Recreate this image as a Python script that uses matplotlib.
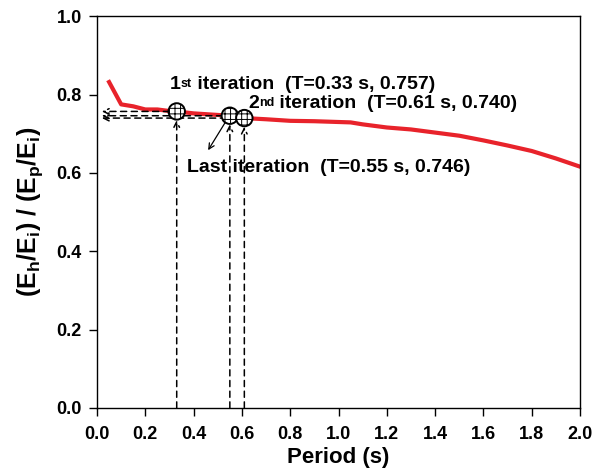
import numpy as np
import matplotlib
matplotlib.use("Agg")
import matplotlib.pyplot as plt

plt.rcParams['font.family'] = ['Liberation Sans', 'DejaVu Sans']
plt.rcParams['font.weight'] = 'bold'
plt.rcParams['mathtext.default'] = 'regular'
plt.rcParams['hatch.linewidth'] = 0.7

# energy ratio curve vs period
period = [0.05, 0.1, 0.15, 0.2, 0.25, 0.3, 0.33, 0.4, 0.5, 0.55, 0.61, 0.7, 0.8, 0.9,
          1.0, 1.05, 1.1, 1.2, 1.3, 1.4, 1.5, 1.6, 1.7, 1.8, 1.9, 2.0]
ratio = [0.832, 0.775, 0.770, 0.762, 0.762, 0.758, 0.757, 0.752, 0.748, 0.746, 0.740,
         0.737, 0.733, 0.732, 0.730, 0.729, 0.724, 0.716, 0.711, 0.703, 0.695, 0.683,
         0.670, 0.656, 0.637, 0.616]

# iteration points
iter_T = [0.33, 0.55, 0.61]
iter_val = [0.757, 0.746, 0.740]

fig = plt.figure(figsize=(6.0, 4.76), dpi=100)
ax = fig.add_axes([0.1617, 0.1429, 0.805, 0.823])

ax.plot(period, ratio, color='#e8232b', lw=3.0, zorder=2)

# dashed guide arrows: up from axis to point, left from point to axis
for t, v in zip(iter_T, iter_val):
    ax.annotate('', xy=(t, v - 0.022), xytext=(t, 0.0),
                arrowprops=dict(arrowstyle='->', linestyle=(0, (4, 3)), lw=1.1,
                                color='black', shrinkA=0, shrinkB=0), zorder=3)
    ax.annotate('', xy=(0.02, v), xytext=(t - 0.03, v),
                arrowprops=dict(arrowstyle='->', linestyle=(0, (4, 3)), lw=1.1,
                                color='black', shrinkA=0, shrinkB=0), zorder=3)

ax.scatter(iter_T, iter_val, s=140, facecolor='white', edgecolor='black',
           linewidths=1.4, hatch='+++', zorder=4)

ax.annotate('', xy=(0.46, 0.658), xytext=(0.535, 0.733),
            arrowprops=dict(arrowstyle='->', lw=0.9, color='black',
                            shrinkA=0, shrinkB=0), zorder=3)


def ordinal_label(x, y, num, sup, rest):
    # number, small raised suffix, then the rest on the number's baseline
    base = ax.text(x, y, num, fontsize=14, va='center', ha='left')
    s = ax.annotate(sup, xy=(1.05, 0.9), xycoords=base, va='top', ha='left',
                    fontsize=9)
    ax.annotate(rest, xy=(1, 0), xycoords=(s, base), va='bottom', ha='left',
                fontsize=14)


ordinal_label(0.30, 0.826, '1', 'st', ' iteration  (T=0.33 s, 0.757)')
ordinal_label(0.625, 0.776, '2', 'nd', ' iteration  (T=0.61 s, 0.740)')
ax.text(0.373, 0.613, 'Last iteration  (T=0.55 s, 0.746)', fontsize=14,
        fontweight='bold', va='center', ha='left')

ax.set_xlim(0, 2.0)
ax.set_ylim(0, 1.0)
ax.set_xticks(np.arange(0, 2.01, 0.2))
ax.set_yticks(np.arange(0, 1.01, 0.2))
ax.set_xticklabels([f'{v:.1f}' for v in np.arange(0, 2.01, 0.2)])
ax.set_yticklabels([f'{v:.1f}' for v in np.arange(0, 1.01, 0.2)])
ax.tick_params(direction='out', length=6, width=1.0, labelsize=13, pad=5)
ax.tick_params(axis='x', pad=7)
for lbl in ax.get_xticklabels() + ax.get_yticklabels():
    lbl.set_fontweight('bold')
for s in ax.spines.values():
    s.set_linewidth(1.0)

ax.set_xlabel('Period (s)', fontsize=16, fontweight='bold', labelpad=3)
ax.set_ylabel(r'(E$_h$/E$_i$) / (E$_p$/E$_i$)', fontsize=18, fontweight='bold', labelpad=8)

fig.savefig('out.png', dpi=100)
